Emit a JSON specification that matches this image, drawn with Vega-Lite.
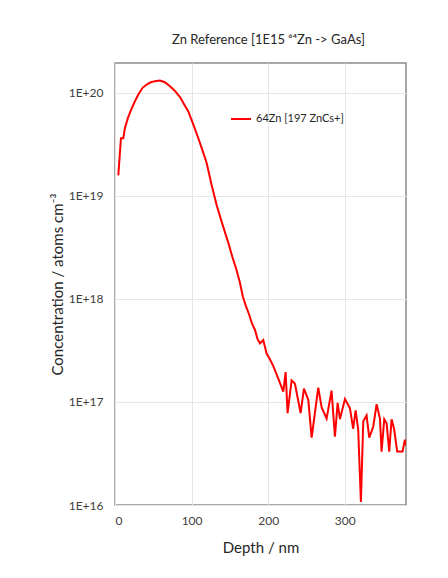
{
  "$schema": "https://vega.github.io/schema/vega-lite/v6.json",
  "autosize": "none",
  "width": 291,
  "height": 442,
  "padding": {"left": 115, "top": 63, "right": 42, "bottom": 73},
  "background": "white",
  "config": {
    "font": "Lato",
    "view": {"stroke": "#8c8c8c", "strokeWidth": 1.5},
    "axis": {"gridColor": "#e6e6e6", "gridWidth": 1, "domain": false, "ticks": false, "labelFont": "Lato", "labelFontSize": 12, "labelColor": "#404040", "titleFont": "Lato", "titleFontSize": 15, "titleFontWeight": "normal", "titleColor": "#262626"}
  },
  "title": {"text": "Zn Reference [1E15 ⁶⁴Zn -> GaAs]", "fontSize": 13, "fontWeight": "normal", "font": "Lato", "color": "#262626", "offset": 16, "dx": 8},
  "data": {"values": [
    {"depth": 4.3, "conc": 1.58e19, "series": "64Zn [197 ZnCs+]"},
    {"depth": 7.8, "conc": 3.63e19, "series": "64Zn [197 ZnCs+]"},
    {"depth": 10.8, "conc": 3.63e19, "series": "64Zn [197 ZnCs+]"},
    {"depth": 13, "conc": 4.57e19, "series": "64Zn [197 ZnCs+]"},
    {"depth": 17, "conc": 5.75e19, "series": "64Zn [197 ZnCs+]"},
    {"depth": 21.8, "conc": 7.08e19, "series": "64Zn [197 ZnCs+]"},
    {"depth": 26, "conc": 8.3e19, "series": "64Zn [197 ZnCs+]"},
    {"depth": 31, "conc": 9.8e19, "series": "64Zn [197 ZnCs+]"},
    {"depth": 36, "conc": 1.12e20, "series": "64Zn [197 ZnCs+]"},
    {"depth": 41, "conc": 1.2e20, "series": "64Zn [197 ZnCs+]"},
    {"depth": 46, "conc": 1.26e20, "series": "64Zn [197 ZnCs+]"},
    {"depth": 52, "conc": 1.3e20, "series": "64Zn [197 ZnCs+]"},
    {"depth": 58.7, "conc": 1.32e20, "series": "64Zn [197 ZnCs+]"},
    {"depth": 65, "conc": 1.27e20, "series": "64Zn [197 ZnCs+]"},
    {"depth": 71.8, "conc": 1.16e20, "series": "64Zn [197 ZnCs+]"},
    {"depth": 78, "conc": 1.05e20, "series": "64Zn [197 ZnCs+]"},
    {"depth": 84.9, "conc": 9.1e19, "series": "64Zn [197 ZnCs+]"},
    {"depth": 90, "conc": 7.8e19, "series": "64Zn [197 ZnCs+]"},
    {"depth": 95.7, "conc": 6.6e19, "series": "64Zn [197 ZnCs+]"},
    {"depth": 102, "conc": 5.0e19, "series": "64Zn [197 ZnCs+]"},
    {"depth": 108.8, "conc": 3.63e19, "series": "64Zn [197 ZnCs+]"},
    {"depth": 114, "conc": 2.8e19, "series": "64Zn [197 ZnCs+]"},
    {"depth": 119.7, "conc": 2.09e19, "series": "64Zn [197 ZnCs+]"},
    {"depth": 126, "conc": 1.29e19, "series": "64Zn [197 ZnCs+]"},
    {"depth": 132.8, "conc": 8.1e18, "series": "64Zn [197 ZnCs+]"},
    {"depth": 139.3, "conc": 5.6e18, "series": "64Zn [197 ZnCs+]"},
    {"depth": 148, "conc": 3.5e18, "series": "64Zn [197 ZnCs+]"},
    {"depth": 153, "conc": 2.6e18, "series": "64Zn [197 ZnCs+]"},
    {"depth": 158.8, "conc": 1.9e18, "series": "64Zn [197 ZnCs+]"},
    {"depth": 163, "conc": 1.45e18, "series": "64Zn [197 ZnCs+]"},
    {"depth": 167, "conc": 1.05e18, "series": "64Zn [197 ZnCs+]"},
    {"depth": 171, "conc": 8.5e17, "series": "64Zn [197 ZnCs+]"},
    {"depth": 175, "conc": 7.1e17, "series": "64Zn [197 ZnCs+]"},
    {"depth": 179, "conc": 5.75e17, "series": "64Zn [197 ZnCs+]"},
    {"depth": 182.8, "conc": 5.0e17, "series": "64Zn [197 ZnCs+]"},
    {"depth": 186, "conc": 4.1e17, "series": "64Zn [197 ZnCs+]"},
    {"depth": 189.3, "conc": 3.7e17, "series": "64Zn [197 ZnCs+]"},
    {"depth": 193.6, "conc": 4.0e17, "series": "64Zn [197 ZnCs+]"},
    {"depth": 198, "conc": 2.95e17, "series": "64Zn [197 ZnCs+]"},
    {"depth": 202.3, "conc": 2.6e17, "series": "64Zn [197 ZnCs+]"},
    {"depth": 207, "conc": 2.2e17, "series": "64Zn [197 ZnCs+]"},
    {"depth": 213, "conc": 1.7e17, "series": "64Zn [197 ZnCs+]"},
    {"depth": 219.7, "conc": 1.26e17, "series": "64Zn [197 ZnCs+]"},
    {"depth": 222.8, "conc": 1.95e17, "series": "64Zn [197 ZnCs+]"},
    {"depth": 225.4, "conc": 7.8e16, "series": "64Zn [197 ZnCs+]"},
    {"depth": 230.6, "conc": 1.62e17, "series": "64Zn [197 ZnCs+]"},
    {"depth": 235, "conc": 1.5e17, "series": "64Zn [197 ZnCs+]"},
    {"depth": 242.4, "conc": 7.8e16, "series": "64Zn [197 ZnCs+]"},
    {"depth": 246.7, "conc": 1.35e17, "series": "64Zn [197 ZnCs+]"},
    {"depth": 252.4, "conc": 1.05e17, "series": "64Zn [197 ZnCs+]"},
    {"depth": 256.8, "conc": 4.5e16, "series": "64Zn [197 ZnCs+]"},
    {"depth": 265.4, "conc": 1.38e17, "series": "64Zn [197 ZnCs+]"},
    {"depth": 269.8, "conc": 8.9e16, "series": "64Zn [197 ZnCs+]"},
    {"depth": 276.3, "conc": 6.9e16, "series": "64Zn [197 ZnCs+]"},
    {"depth": 282.8, "conc": 1.29e17, "series": "64Zn [197 ZnCs+]"},
    {"depth": 287.2, "conc": 4.6e16, "series": "64Zn [197 ZnCs+]"},
    {"depth": 290.7, "conc": 9.8e16, "series": "64Zn [197 ZnCs+]"},
    {"depth": 293.7, "conc": 6.8e16, "series": "64Zn [197 ZnCs+]"},
    {"depth": 300.3, "conc": 1.07e17, "series": "64Zn [197 ZnCs+]"},
    {"depth": 306.8, "conc": 8.7e16, "series": "64Zn [197 ZnCs+]"},
    {"depth": 311, "conc": 5.5e16, "series": "64Zn [197 ZnCs+]"},
    {"depth": 314.2, "conc": 8.3e16, "series": "64Zn [197 ZnCs+]"},
    {"depth": 317.6, "conc": 5.4e16, "series": "64Zn [197 ZnCs+]"},
    {"depth": 321.1, "conc": 1.07e16, "series": "64Zn [197 ZnCs+]"},
    {"depth": 324.2, "conc": 6.5e16, "series": "64Zn [197 ZnCs+]"},
    {"depth": 328.5, "conc": 7.4e16, "series": "64Zn [197 ZnCs+]"},
    {"depth": 332, "conc": 4.5e16, "series": "64Zn [197 ZnCs+]"},
    {"depth": 337.2, "conc": 5.75e16, "series": "64Zn [197 ZnCs+]"},
    {"depth": 341.6, "conc": 9.5e16, "series": "64Zn [197 ZnCs+]"},
    {"depth": 346, "conc": 6.9e16, "series": "64Zn [197 ZnCs+]"},
    {"depth": 348.1, "conc": 3.3e16, "series": "64Zn [197 ZnCs+]"},
    {"depth": 351.6, "conc": 6.8e16, "series": "64Zn [197 ZnCs+]"},
    {"depth": 354.7, "conc": 6.2e16, "series": "64Zn [197 ZnCs+]"},
    {"depth": 358.1, "conc": 3.3e16, "series": "64Zn [197 ZnCs+]"},
    {"depth": 361.2, "conc": 6.8e16, "series": "64Zn [197 ZnCs+]"},
    {"depth": 364.6, "conc": 5.4e16, "series": "64Zn [197 ZnCs+]"},
    {"depth": 368.5, "conc": 3.3e16, "series": "64Zn [197 ZnCs+]"},
    {"depth": 375.5, "conc": 3.3e16, "series": "64Zn [197 ZnCs+]"},
    {"depth": 378.6, "conc": 4.3e16, "series": "64Zn [197 ZnCs+]"},
    {"depth": 380, "conc": 3.8e16, "series": "64Zn [197 ZnCs+]"}
  ]},
  "mark": {"type": "line", "strokeWidth": 2, "clip": true},
  "encoding": {
    "x": {"field": "depth", "type": "quantitative", "scale": {"domain": [0, 380], "nice": false},
      "axis": {"values": [0, 100, 200, 300], "title": "Depth / nm", "labelPadding": 10, "titlePadding": 14}},
    "y": {"field": "conc", "type": "quantitative", "scale": {"type": "log", "domain": [1e16, 1.95e20], "nice": false},
      "axis": {"values": [1e16, 1e17, 1e18, 1e19, 1e20], "labelExpr": "'1E+' + round(log(datum.value)/LN10)", "title": "Concentration / atoms cm⁻³", "labelPadding": 12, "titlePadding": 3}},
    "color": {"field": "series", "type": "nominal", "scale": {"range": ["#ff0000"]},
      "legend": {"title": null, "orient": "none", "legendX": 115, "legendY": 45, "symbolType": "stroke", "symbolSize": 400, "symbolStrokeWidth": 2, "labelFont": "Lato", "labelFontSize": 11, "labelColor": "#262626"}}
  }
}
